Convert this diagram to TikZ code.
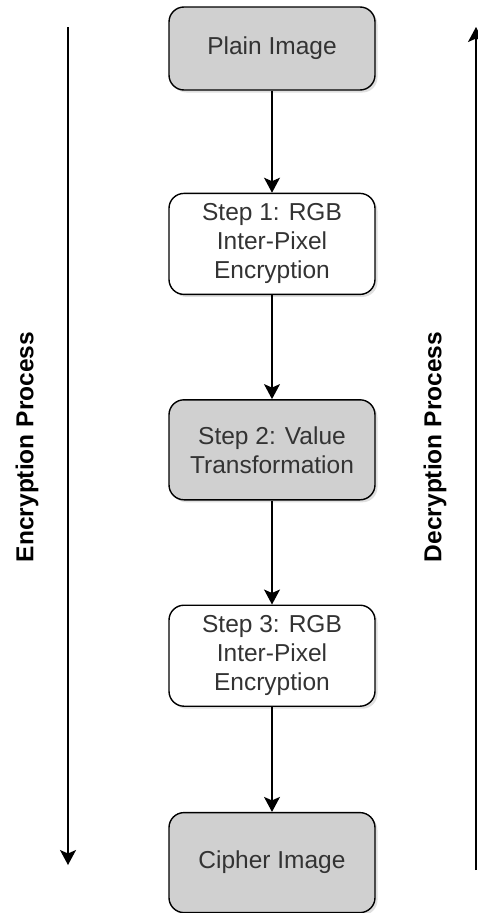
\documentclass[tikz,border=0pt]{standalone}
\usepackage{fontspec}
\setmainfont{Liberation Sans}
\definecolor{boxgray}{RGB}{208, 208, 208}
\definecolor{textgray}{RGB}{51, 51, 51}
\usetikzlibrary{arrows.meta}
\usetikzlibrary{positioning}
\usetikzlibrary{shadows}
\tikzset{
  stage/.style={
    draw=black, line width=1.4pt, rounded corners=15pt,
    minimum width=206pt, align=center, text=textgray,
    font=\fontsize{24.5}{29}\selectfont,
    drop shadow={opacity=0.25, shadow xshift=2.5pt, shadow yshift=-2.5pt}
  },
  graystage/.style={stage, fill=boxgray, minimum height=100pt},
  whitestage/.style={stage, fill=white, minimum height=101pt},
  arrow/.style={->, >={Stealth[length=15pt, width=16pt, inset=3.5pt]}, line width=1.4pt},
  process/.style={font=\bfseries\fontsize{24.5}{28}\selectfont, rotate=90}
}
\begin{document}
\begin{tikzpicture}
      \useasboundingbox (0,0) rectangle (478pt,-913pt);

      \node [graystage, minimum height=83pt] (plain) at (272pt,-48.5pt) {Plain Image};
      \node [whitestage, below=102pt of plain] (step1) {Step 1: RGB\\Inter-Pixel\\Encryption};
      \node [graystage, below=104pt of step1] (step2) {Step 2: Value\\Transformation};
      \node [whitestage, below=104pt of step2] (step3) {Step 3: RGB\\Inter-Pixel\\Encryption};
      \node [graystage, below=105pt of step3] (cipher) {Cipher Image};

      \draw [arrow] (plain) -- (step1);
      \draw [arrow] (step1) -- (step2);
      \draw [arrow] (step2) -- (step3);
      \draw [arrow] (step3) -- (cipher);

      % side arrows
      \coordinate (enctop) at (68pt,-27pt);
      \coordinate (encbot) at (68pt,-865pt);
      \coordinate (decbot) at (476pt,-870pt);
      \coordinate (dectop) at (476pt,-27pt);
      \draw [arrow] (enctop) -- (encbot);
      \draw [arrow] (decbot) -- (dectop);

      \node [process] (enclabel) at (27pt,-447pt) {Encryption Process};
      \node [process] (declabel) at (435pt,-447pt) {Decryption Process};
\end{tikzpicture}
\end{document}
